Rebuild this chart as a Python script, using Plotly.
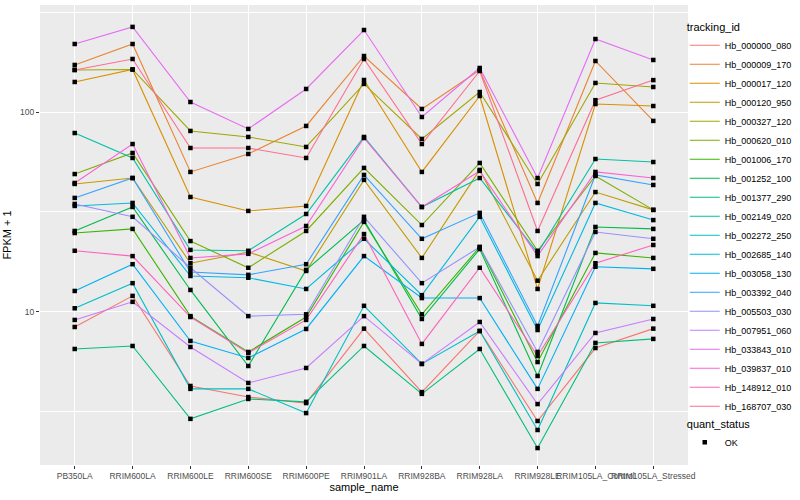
import plotly.graph_objects as go

samples = ["PB350LA", "RRIM600LA", "RRIM600LE", "RRIM600SE", "RRIM600PE", "RRIM901LA",
           "RRIM928BA", "RRIM928LA", "RRIM928LE", "RRIM105LA_Control", "RRIM105LA_Stressed"]

tracking_ids = ["Hb_000000_080", "Hb_000009_170", "Hb_000017_120", "Hb_000120_950", "Hb_000327_120",
                "Hb_000620_010", "Hb_001006_170", "Hb_001252_100", "Hb_001377_290", "Hb_002149_020",
                "Hb_002272_250", "Hb_002685_140", "Hb_003058_130", "Hb_003392_040", "Hb_005503_030",
                "Hb_007951_060", "Hb_033843_010", "Hb_039837_010", "Hb_148912_010", "Hb_168707_030"]

colors = ["#F8766D", "#EA8331", "#D89000", "#C09B00", "#A3A500", "#7CAE00", "#39B600", "#00BB4E",
          "#00BF7D", "#00C1A3", "#00BFC4", "#00BAE0", "#00B0F6", "#35A2FF", "#9590FF", "#C77CFF",
          "#E76BF3", "#FA62DB", "#FF62BC", "#FF6C91"]

fpkm_000000_080 = [8.38, 12.0, 4.24, 3.73, 3.48, 8.22, 3.95, 8.0, 2.83, 6.57, 8.22]
fpkm_000009_170 = [172.7, 220, 50.2, 61.8, 85.4, 191.5, 103.9, 163, 35.1, 180.8, 90.5]
fpkm_000017_120 = [141.9, 163.9, 37.6, 32.0, 33.9, 145.2, 50.2, 120.7, 13.0, 110, 107.5]
fpkm_000120_950 = [43.7, 46.8, 17.5, 19.9, 16.0, 45.8, 18.6, 51.4, 14.3, 39.8, 32.4]
fpkm_000327_120 = [163, 164, 80.6, 75.2, 67.0, 138.7, 73.5, 126.4, 43.7, 140.3, 133.9]
fpkm_000620_010 = [49.0, 62.5, 22.6, 16.6, 25.4, 52.6, 27.2, 55.7, 20.2, 47.9, 32.4]
fpkm_001006_170 = [24.8, 26.0, 9.5, 6.28, 9.4, 28.2, 9.7, 21.1, 5.59, 19.7, 18.6]
fpkm_001252_100 = [25.4, 33.5, 12.85, 5.34, 16.2, 28.8, 9.19, 20.6, 4.76, 26.6, 26.0]
fpkm_001377_290 = [6.50, 6.73, 2.90, 3.65, 3.53, 6.73, 3.87, 6.50, 2.07, 6.97, 7.30]
fpkm_002149_020 = [78.7, 59.0, 20.4, 20.2, 30.9, 75.2, 33.5, 46.8, 19.7, 58.3, 56.3]
fpkm_002272_250 = [10.4, 13.9, 4.10, 4.10, 3.10, 10.7, 5.47, 8.0, 2.55, 11.06, 10.7]
fpkm_002685_140 = [33.9, 35.1, 15.1, 14.8, 13.0, 23.2, 12.1, 29.9, 8.09, 35.1, 28.8]
fpkm_003058_130 = [12.7, 17.3, 7.13, 5.86, 8.19, 19.0, 11.7, 11.7, 4.10, 16.8, 16.4]
fpkm_003392_040 = [37.2, 46.8, 15.8, 15.3, 17.3, 48.5, 23.2, 31.3, 8.48, 48.5, 43.2]
fpkm_005503_030 = [34.7, 29.9, 16.6, 9.5, 9.7, 29.9, 13.9, 21.1, 6.28, 25.1, 23.2]
fpkm_007951_060 = [9.09, 11.2, 6.65, 4.39, 5.22, 9.5, 5.47, 8.88, 3.44, 7.82, 9.19]
fpkm_033843_010 = [220, 268, 112.6, 82.5, 130.9, 258.6, 94.7, 166.8, 46.8, 233, 182.9]
fpkm_039837_010 = [44.2, 69.3, 18.6, 19.5, 26.9, 74.3, 33.5, 50.8, 19.0, 50.2, 46.8]
fpkm_148912_010 = [20.2, 19.0, 9.4, 6.21, 9.09, 24.5, 6.89, 16.6, 5.99, 17.5, 21.6]
fpkm_168707_030 = [163, 185, 66.2, 66.2, 59.0, 185, 69.3, 161, 25.4, 115, 145]

series = [fpkm_000000_080, fpkm_000009_170, fpkm_000017_120, fpkm_000120_950, fpkm_000327_120,
          fpkm_000620_010, fpkm_001006_170, fpkm_001252_100, fpkm_001377_290, fpkm_002149_020,
          fpkm_002272_250, fpkm_002685_140, fpkm_003058_130, fpkm_003392_040, fpkm_005503_030,
          fpkm_007951_060, fpkm_033843_010, fpkm_039837_010, fpkm_148912_010, fpkm_168707_030]

quant_status = "OK"

FONT = "Liberation Sans, Arial, sans-serif"
fig = go.Figure()

for name, col, vals in zip(tracking_ids, colors, series):
    fig.add_trace(go.Scatter(x=samples, y=vals, mode="lines", name=name,
                             line=dict(color=col, width=1.1), legend="legend"))

all_x = [s for vals in series for s in samples]
all_y = [v for vals in series for v in vals]
fig.add_trace(go.Scatter(x=all_x, y=all_y, mode="markers", name=quant_status,
                         marker=dict(symbol="square", color="black", size=4.5),
                         legend="legend2"))

fig.update_layout(
    width=800, height=500,
    margin=dict(l=40, r=112, t=5, b=35, autoexpand=False),
    paper_bgcolor="white", plot_bgcolor="#EBEBEB",
    font=dict(family=FONT, size=10, color="black"),
    showlegend=True,
    legend=dict(title=dict(text="tracking_id", font=dict(size=11)), x=0.995, y=0.975,
                xanchor="left", yanchor="top", font=dict(size=9), tracegroupgap=0,
                itemwidth=30, bgcolor="rgba(0,0,0,0)"),
    legend2=dict(title=dict(text="quant_status", font=dict(size=11)), x=0.995, y=0.112,
                 xanchor="left", yanchor="top", font=dict(size=9), itemwidth=30,
                 bgcolor="rgba(0,0,0,0)"),
    xaxis=dict(type="category", categoryorder="array", categoryarray=samples,
               range=[-0.6, 10.6], showgrid=True, gridcolor="white", gridwidth=1.1,
               ticks="outside", ticklen=3, tickcolor="#333333", tickangle=0,
               automargin=False,
               tickfont=dict(size=8.5, color="#4D4D4D"), zeroline=False, showline=False,
               title=dict(text="sample_name", font=dict(size=11), standoff=2)),
    yaxis=dict(type="log", range=[0.231, 2.538], tickvals=[10, 100], ticktext=["10", "100"],
               showgrid=True, gridcolor="white", gridwidth=1.1, automargin=False,
               minor=dict(tickvals=[3.1623, 31.623, 316.23], showgrid=True, gridcolor="white",
                          gridwidth=0.5, ticks=""),
               ticks="outside", ticklen=3, tickcolor="#333333",
               tickfont=dict(size=8.5, color="#4D4D4D"), zeroline=False, showline=False,
               title=dict(text="FPKM + 1", font=dict(size=11), standoff=6)),
)

fig.write_html("out.html", config={"displayModeBar": False},
               post_script="document.body.style.margin='0';")
